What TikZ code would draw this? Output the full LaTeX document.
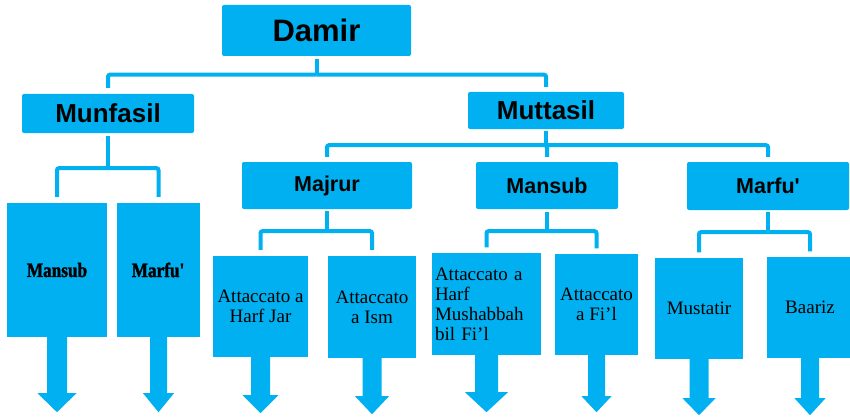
\documentclass[tikz,border=0pt]{standalone}
\usepackage{fontspec}
\setmainfont{Liberation Serif}
\newfontfamily\headfont{Liberation Sans}
\newfontfamily\slabfont[FakeStretch=0.84, FakeBold=1.5]{Liberation Serif}
\usetikzlibrary{positioning}
\definecolor{dmblue}{HTML}{00B0F0}

% block arrow under a box: node, stem half width, head half width, stem length, head length
\newcommand{\blockarrow}[5]{%
  \fill[dmblue] (#1.south) ++(-#2,0) -- ++(0,#4) -- ++({#2-#3},0) -- ++(#3,#5)
    -- ++(#3,-#5) -- ++({#2-#3},0) -- ++(0,-#4) -- cycle;}

\begin{document}
\begin{tikzpicture}[
  x=1pt, y=-1pt,
  headbox/.style={fill=dmblue, rounded corners=2pt, inner sep=0pt, text=black,
                  font=\headfont\bfseries\fontsize{#1}{#1}\selectfont},
  leafbox/.style={fill=dmblue, inner sep=2pt, align=center, text=black,
                  font=\fontsize{19}{20}\selectfont},
  slabbox/.style={fill=dmblue, inner sep=0pt, text=black,
                  font=\slabfont\bfseries\fontsize{20.5}{22}\selectfont},
  link/.style={draw=dmblue, line width=4pt, rounded corners=2pt},
]
\useasboundingbox (0,0) rectangle (850,417);

% Top levels
\node[headbox=31, minimum width=189pt, minimum height=51pt] (damir) at (316.5,30.5) {Damir};
\node[headbox=26, minimum width=172pt, minimum height=39pt] (munfasil) at (108,113.5) {Munfasil};
\node[headbox=26, minimum width=156pt, minimum height=37pt] (muttasil) at (546,110.5) {Muttasil};

% Muttasil children
\node[headbox=21.5, minimum width=170pt, minimum height=47pt] (majrur) at (327,185.5) {Majrur};
\node[headbox=21.5, minimum width=142pt, minimum height=47pt] (mansubM) at (547,185.5) {Mansub};
\node[headbox=21.5, minimum width=162pt, minimum height=48pt] (marfuR) at (768,186) {Marfu\textquotesingle};

% Munfasil leaves
\node[slabbox, minimum width=100pt, minimum height=134pt] (mansubL) at (57,270) {Mansub};
\node[slabbox, minimum width=83pt, minimum height=134pt] (marfuL) at (158.5,270) {Marfu\textquotesingle};

% Muttasil leaves
\node[leafbox, minimum width=95pt, minimum height=101pt] (harfjar) at (260.5,306.5) {Attaccato a\\Harf Jar};
\node[leafbox, minimum width=88pt, minimum height=102pt] (ism) at (372,307) {Attaccato\\a Ism};
\node[leafbox, align=left, inner sep=3pt, text width=103pt, minimum height=102pt] (mushabbah) at (486.5,304)
  {Attaccato a\\Harf\\Mushabbah\\bil Fi’l};
\node[leafbox, minimum width=83pt, minimum height=101pt] (fil) at (596.5,304.5) {Attaccato\\a Fi’l};
\node[leafbox, minimum width=88pt, minimum height=101pt] (mustatir) at (699,308.5) {Mustatir};
\node[leafbox, minimum width=86pt, minimum height=101pt] (baariz) at (810,307.5) {Baariz};

% Connectors
\draw[link, shorten <=2.5pt] (damir.south) -- ++(0,18.5) coordinate (dj);
\draw[link, shorten >=6pt] (dj) -| (munfasil.north);
\draw[link, shorten >=5pt] (dj) -| (muttasil.north);

\draw[link, shorten <=3pt] (munfasil.south) -- ++(0,35) coordinate (nj);
\draw[link, shorten >=6pt] (nj) -| (mansubL.north);
\draw[link, shorten >=6pt] (nj) -| (marfuL.north);

\draw[link, shorten <=2pt] (muttasil.south) -- ++(0,16) coordinate (tj);
\draw[link, shorten >=5pt] (tj) -| (majrur.north);
\draw[link, shorten >=5pt] (tj) -| (mansubM.north);
\draw[link, shorten >=5pt] (tj) -| (marfuR.north);

\draw[link, shorten <=2pt] (majrur.south) -- ++(0,22) coordinate (jj);
\draw[link, shorten >=6pt] (jj) -| (harfjar.north);
\draw[link, shorten >=6pt] (jj) -| (ism.north);

\draw[link, shorten <=3pt] (mansubM.south) -- ++(0,22) coordinate (mj);
\draw[link, shorten >=5.5pt] (mj) -| (mushabbah.north);
\draw[link, shorten >=5.5pt] (mj) -| (fil.north);

\draw[link, shorten <=2pt] (marfuR.south) -- ++(0,22) coordinate (rj);
\draw[link, shorten >=5.5pt] (rj) -| (mustatir.north);
\draw[link, shorten >=5.5pt] (rj) -| (baariz.north);

% Block arrows
\blockarrow{mansubL}{10}{19.5}{56}{19}
\blockarrow{marfuL}{8.5}{15.5}{56}{19}
\blockarrow{harfjar}{9.5}{18}{38}{18}
\blockarrow{ism}{9.5}{17}{38}{18}
\blockarrow{mushabbah}{11.5}{21.5}{37}{20}
\blockarrow{fil}{8.5}{15}{41}{16}
\blockarrow{mustatir}{9.5}{16.5}{39}{17}
\blockarrow{baariz}{9}{15.5}{40}{17}

\end{tikzpicture}
\end{document}
